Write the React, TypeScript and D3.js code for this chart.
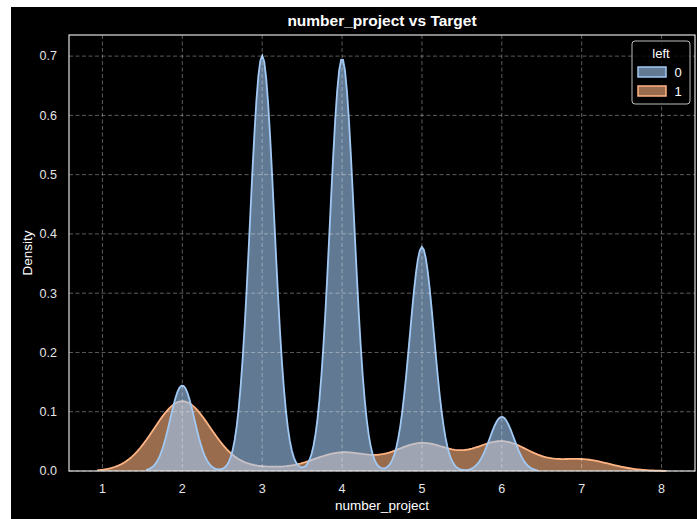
import * as d3 from 'd3';
import React, { useEffect, useRef } from 'react';

// number_project values and how many employees sit at each one, per "left" group
const projects = [2, 3, 4, 5, 6, 7];
const stayedCounts = [821, 3983, 3956, 2149, 519, 0]; // left = 0
const leftCounts = [1567, 72, 409, 612, 655, 256]; // left = 1
const groupLabels = ['0', '1'];
const xTicks = [1, 2, 3, 4, 5, 6, 7, 8];
const yTicks = [0, 0.1, 0.2, 0.3, 0.4, 0.5, 0.6, 0.7];

const width = 686;
const height = 512;
const margin = { top: 28, right: 2, bottom: 48, left: 58 };
const font = "'Liberation Sans', Arial, sans-serif";
const blue = '#a1c9f4';
const orange = '#ffb482';

interface Pt {
  x: number;
  y: number;
}

// gaussian kde (scott bandwidth, cut = 3, 200 points), normalised over both groups
const kde = (counts: number[], total: number): Pt[] => {
  const n = d3.sum(counts);
  const mean = d3.sum(projects, (p, i) => p * counts[i]) / n;
  const variance = d3.sum(projects, (p, i) => counts[i] * (p - mean) ** 2) / (n - 1);
  const h = Math.sqrt(variance) * Math.pow(n, -0.2);
  const used = projects.filter((_, i) => counts[i] > 0);
  const lo = d3.min(used)! - 3 * h;
  const hi = d3.max(used)! + 3 * h;
  const norm = 1 / (h * Math.sqrt(2 * Math.PI) * total);
  return d3.range(200).map((k) => {
    const x = lo + ((hi - lo) * k) / 199;
    const y = d3.sum(projects, (p, i) => counts[i] * Math.exp(-0.5 * ((x - p) / h) ** 2)) * norm;
    return { x, y };
  });
};

const DensityChart: React.FC = () => {
  const svgRef = useRef<SVGSVGElement>(null);
  useEffect(() => {
    if (!svgRef.current) {
      return;
    }
    const total = d3.sum(stayedCounts) + d3.sum(leftCounts);
    const stayed = kde(stayedCounts, total);
    const left = kde(leftCounts, total);
    const all = stayed.concat(left);
    const xMin = d3.min(all, (d) => d.x)!;
    const xMax = d3.max(all, (d) => d.x)!;
    const pad = (xMax - xMin) * 0.05;
    const xScale = d3
      .scaleLinear()
      .domain([xMin - pad, xMax + pad])
      .range([margin.left, width - margin.right]);
    const yScale = d3
      .scaleLinear()
      .domain([0, d3.max(all, (d) => d.y)! * 1.05])
      .range([height - margin.bottom, margin.top]);

    const svg = d3.select(svgRef.current);
    svg.selectAll('*').remove();

    const area = d3
      .area<Pt>()
      .x((d) => xScale(d.x))
      .y0(yScale(0))
      .y1((d) => yScale(d.y));
    const line = d3
      .line<Pt>()
      .x((d) => xScale(d.x))
      .y((d) => yScale(d.y));

    // orange first, blue drawn over it
    [
      { pts: left, color: orange },
      { pts: stayed, color: blue },
    ].forEach((s) => {
      svg.append('path').datum(s.pts).attr('d', area).attr('fill', s.color).attr('fill-opacity', 0.6);
      svg
        .append('path')
        .datum(s.pts)
        .attr('d', line)
        .attr('fill', 'none')
        .attr('stroke', s.color)
        .attr('stroke-width', 1.8);
    });

    // dashed grid on top
    const grid = svg.append('g').attr('stroke', '#ffffff').attr('stroke-opacity', 0.45).attr('stroke-width', 0.8).attr('stroke-dasharray', '4,2.5');
    grid
      .selectAll('.vg')
      .data(xTicks)
      .enter()
      .append('line')
      .attr('x1', (d) => xScale(d))
      .attr('x2', (d) => xScale(d))
      .attr('y1', margin.top)
      .attr('y2', height - margin.bottom);
    grid
      .selectAll('.hg')
      .data(yTicks)
      .enter()
      .append('line')
      .attr('x1', margin.left)
      .attr('x2', width - margin.right)
      .attr('y1', (d) => yScale(d))
      .attr('y2', (d) => yScale(d));

    // frame
    svg
      .append('rect')
      .attr('x', margin.left)
      .attr('y', margin.top)
      .attr('width', width - margin.left - margin.right)
      .attr('height', height - margin.top - margin.bottom)
      .attr('fill', 'none')
      .attr('stroke', '#e0e0e0')
      .attr('stroke-width', 1.2);

    // tick labels
    svg
      .selectAll('.xt')
      .data(xTicks)
      .enter()
      .append('text')
      .attr('x', (d) => xScale(d))
      .attr('y', height - margin.bottom + 22)
      .attr('text-anchor', 'middle')
      .attr('fill', '#e6e6e6')
      .attr('font-size', 12.5)
      .attr('font-family', font)
      .text((d) => d);
    svg
      .selectAll('.yt')
      .data(yTicks)
      .enter()
      .append('text')
      .attr('x', margin.left - 12)
      .attr('y', (d) => yScale(d))
      .attr('dy', '0.35em')
      .attr('text-anchor', 'end')
      .attr('fill', '#e6e6e6')
      .attr('font-size', 12.5)
      .attr('font-family', font)
      .text((d) => d3.format('.1f')(d));

    // title and axis labels
    const cx = (margin.left + width - margin.right) / 2;
    svg
      .append('text')
      .attr('x', cx)
      .attr('y', 19)
      .attr('text-anchor', 'middle')
      .attr('fill', '#ffffff')
      .attr('font-weight', 'bold')
      .attr('font-size', 15.5)
      .attr('font-family', font)
      .text('number_project vs Target');
    svg
      .append('text')
      .attr('x', cx)
      .attr('y', height - 9)
      .attr('text-anchor', 'middle')
      .attr('fill', '#ffffff')
      .attr('font-size', 13.5)
      .attr('font-family', font)
      .text('number_project');
    svg
      .append('text')
      .attr('transform', `translate(21,${(margin.top + height - margin.bottom) / 2}) rotate(-90)`)
      .attr('text-anchor', 'middle')
      .attr('fill', '#ffffff')
      .attr('font-size', 13.5)
      .attr('font-family', font)
      .text('Density');

    // legend
    const lg = svg.append('g').attr('transform', 'translate(621,34)');
    lg.append('rect')
      .attr('width', 58)
      .attr('height', 63)
      .attr('rx', 3)
      .attr('fill', '#000000')
      .attr('fill-opacity', 0.8)
      .attr('stroke', '#bdbdbd')
      .attr('stroke-width', 1);
    lg.append('text')
      .attr('x', 29)
      .attr('y', 17)
      .attr('text-anchor', 'middle')
      .attr('fill', '#ffffff')
      .attr('font-size', 13)
      .attr('font-family', font)
      .text('left');
    [blue, orange].forEach((c, i) => {
      const y = 26 + i * 19;
      lg.append('rect').attr('x', 6).attr('y', y).attr('width', 28).attr('height', 10).attr('fill', '#000000');
      lg.append('rect')
        .attr('x', 6)
        .attr('y', y)
        .attr('width', 28)
        .attr('height', 10)
        .attr('fill', c)
        .attr('fill-opacity', 0.6)
        .attr('stroke', c)
        .attr('stroke-width', 1.5);
      lg.append('text')
        .attr('x', 46)
        .attr('y', y + 5)
        .attr('dy', '0.35em')
        .attr('text-anchor', 'middle')
        .attr('fill', '#ffffff')
        .attr('font-size', 13)
        .attr('font-family', font)
        .text(groupLabels[i]);
    });
  }, []);
  return (
    <svg
      ref={svgRef}
      width={width}
      height={height}
      style={{ position: 'absolute', left: 11, top: 7, background: '#000000' }}
    />
  );
};

export default function App() {
  return <DensityChart />;
}
